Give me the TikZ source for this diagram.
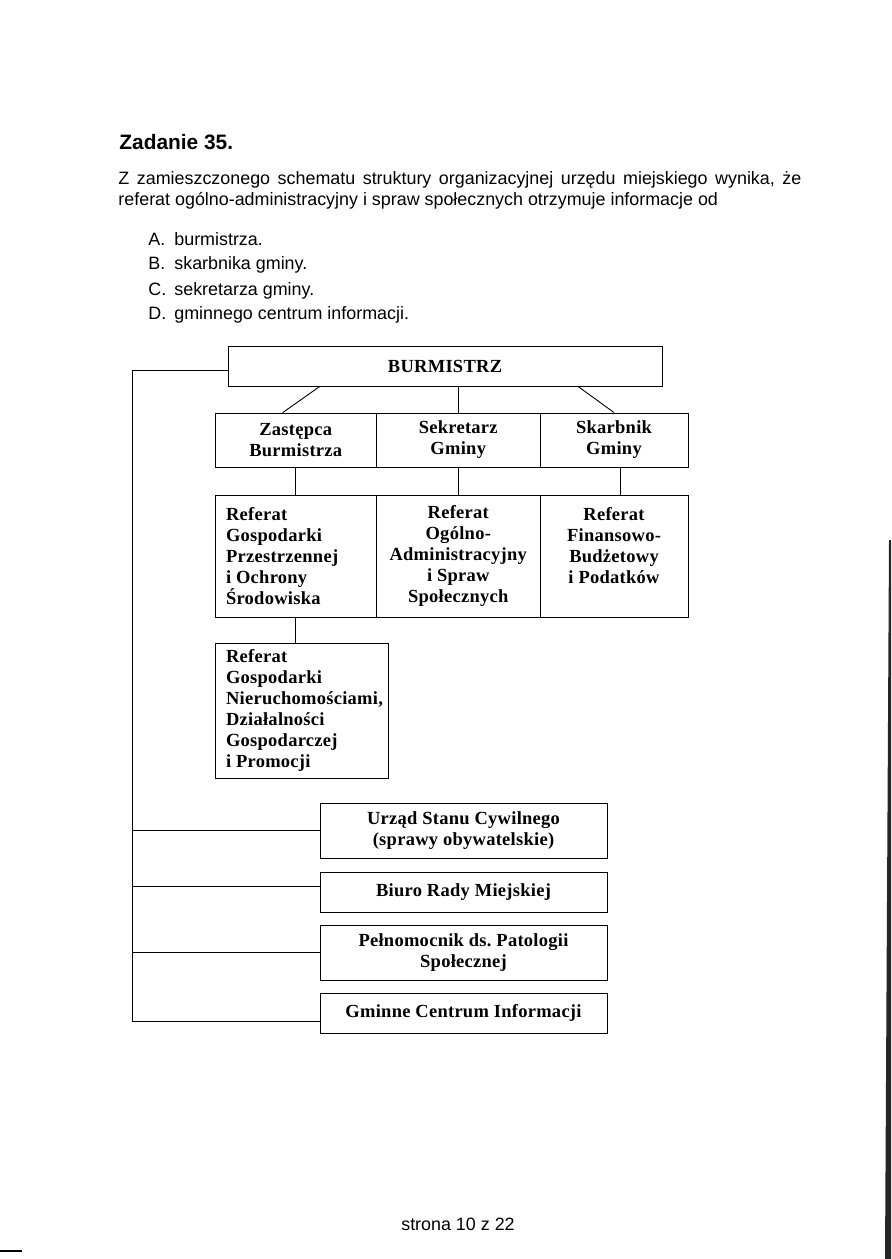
\documentclass[tikz,border=0pt]{standalone}
\usepackage{fontspec}
\setmainfont{Liberation Sans}
\newfontfamily\tnr[LetterSpace=1.5]{Liberation Serif}
\usetikzlibrary{calc}
\frenchspacing

\begin{document}
\begin{tikzpicture}[x=0.02357cm, y=-0.02357cm, line width=0.6pt,
  every node/.style={inner sep=0pt},
  tekst/.style={anchor=base west, font=\fontsize{12}{14}\selectfont},
  jedn/.style={draw, font=\tnr\bfseries\fontsize{12.4}{14}\selectfont, align=center},
  jednL/.style={jedn, align=flush left}]
  \useasboundingbox (0,0) rectangle (891,1259);
  \fill[white] (0,0) rectangle (891,1259);
  % scan edges
  \fill[black!85] (889,540) -- (891,540) -- (891,1259) -- (885,1259) -- cycle;
  \draw[line width=1.2pt] (0,1251) -- (22,1251);

  % question
  \node[anchor=base west, font=\bfseries\fontsize{14}{16}\selectfont] (tytul) at (119,150) {Zadanie 35.};
  \node[tekst] (tresc1) at (118,185) {\makebox[16.1cm][s]{Z zamieszczonego schematu struktury organizacyjnej urzędu miejskiego wynika, że}};
  \node[tekst] (tresc2) at (118,206) {referat ogólno-administracyjny i spraw społecznych otrzymuje informacje od};
  \node[tekst] (odpA) at (148,246) {\makebox[17.4pt][l]{A.}burmistrza.};
  \node[tekst] (odpB) at (148,270) {\makebox[17.4pt][l]{B.}skarbnika gminy.};
  \node[tekst] (odpC) at (148,295) {\makebox[17.4pt][l]{C.}sekretarza gminy.};
  \node[tekst] (odpD) at (148,319) {\makebox[17.4pt][l]{D.}gminnego centrum informacji.};

  % chart
  \node[jedn, minimum width=10.229cm, minimum height=0.943cm] (burm) at (445,366) {BURMISTRZ};
  \node[jedn, minimum width=3.807cm, minimum height=1.273cm] (zast) at (295.75,440) {Zastępca\\Burmistrza};
  \node[jedn, minimum width=3.854cm, minimum height=1.273cm] (sekr) at (458.25,440) {Sekretarz\\Gminy};
  \node[jedn, minimum width=3.488cm, minimum height=1.273cm] (skarb) at (614,440) {Skarbnik\\Gminy};
  \node[jednL, text width=3.288cm, minimum width=3.807cm, minimum height=2.876cm] (ref1) at (295.75,556)
    {Referat\\Gospodarki\\Przestrzennej\\i Ochrony\\Środowiska};
  \node[jedn, minimum width=3.854cm, minimum height=2.876cm] (ref2) at (458.25,556)
    {Referat\\Ogólno-\\Administracyjny\\i Spraw\\Społecznych};
  \node[jedn, minimum width=3.488cm, minimum height=2.876cm] (ref3) at (614,556)
    {Referat\\Finansowo-\\Budżetowy\\i Podatków\\\mbox{}};
  \node[jednL, text width=3.559cm, minimum width=4.078cm, minimum height=3.182cm] (ref4) at (301.5,710.5)
    {Referat\\Gospodarki\\Nieruchomościami,\\Działalności\\Gospodarczej\\i Promocji};
  \node[jedn, minimum width=6.765cm, minimum height=1.296cm] (usc) at (463.5,830.5) {Urząd Stanu Cywilnego\\(sprawy obywatelskie)};
  \node[jedn, minimum width=6.765cm, minimum height=0.943cm] (biuro) at (463.5,892) {Biuro Rady Miejskiej};
  \node[jedn, minimum width=6.765cm, minimum height=1.296cm] (pelnom) at (463.5,952.5) {Pełnomocnik ds. Patologii\\Społecznej};
  \node[jedn, minimum width=6.765cm, minimum height=0.943cm] (gci) at (463.5,1013) {Gminne Centrum Informacji};

  % links from burmistrz
  \draw ($(burm.south west)!0.212!(burm.south east)$) -- ($(zast.north)+(-13,0)$);
  \draw (sekr.north |- burm.south) -- (sekr.north);
  \draw ($(burm.south west)!0.806!(burm.south east)$) -- (skarb.north);
  % links to referaty
  \draw (zast.south) -- (ref1.north);
  \draw (sekr.south) -- (ref2.north);
  \draw ([xshift=0.14cm]skarb.south) -- ([xshift=0.14cm]ref3.north);
  \draw (ref1.south) -- (ref1.south |- ref4.north);
  % left bus
  \coordinate (szyna) at (132,0);
  \coordinate (burmWe) at ([yshift=-0.094cm]burm.west);
  \coordinate (biuroWe) at ([yshift=0.12cm]biuro.west);
  \coordinate (gciWe) at ([yshift=-0.19cm]gci.west);
  \draw (burmWe) -| (szyna |- gciWe) -- (gciWe);
  \draw (szyna |- usc.west) -- (usc.west);
  \draw (szyna |- biuroWe) -- (biuroWe);
  \draw (szyna |- pelnom.west) -- (pelnom.west);

  % footer
  \node[tekst, anchor=base] (stopka) at (458,1230) {strona 10 z 22};
\end{tikzpicture}
\end{document}
